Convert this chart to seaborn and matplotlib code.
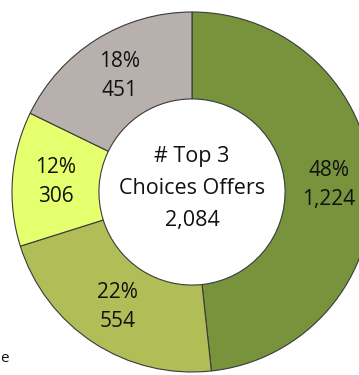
import matplotlib
matplotlib.use("Agg")
import matplotlib.pyplot as plt
import seaborn as sns

# Offer counts per top-3 choice segment (clockwise from 12 o'clock)
segments = ["Segment A", "Segment B", "Segment C", "Segment D"]
counts = [1224, 554, 306, 451]
colors = ["#77933C", "#B1BE58", "#E6FF6E", "#B8B0AD"]
center_title = ["# Top 3", "Choices Offers", "2,084"]

sns.set_theme(style="white")
plt.rcParams["font.family"] = ["Open Sans", "DejaVu Sans"]

W, H = 359, 375
fig = plt.figure(figsize=(W / 100, H / 100), dpi=100)
fig.patch.set_facecolor("white")

# Donut: centre at (192, 192) px from top-left, outer radius 180 px
R = 180
cx, cy = 192, 192
ax = fig.add_axes([(cx - R) / W, (H - cy - R) / H, 2 * R / W, 2 * R / H])

total = sum(counts)


def fmt(pct):
    n = round(pct * total / 100.0)
    return f"{pct:.0f}%\n{n:,}"


wedges, texts, autotexts = ax.pie(
    counts,
    colors=colors,
    startangle=90,
    counterclock=False,
    radius=1.0,
    autopct=fmt,
    pctdistance=0.76,
    wedgeprops=dict(width=0.483, edgecolor="#3a3a3a", linewidth=0.8),
    textprops=dict(fontsize=15, color="#111111", linespacing=1.5),
)
for t in autotexts:
    t.set_ha("center")
    t.set_va("center")

ax.text(0, 0.02, "\n".join(center_title), ha="center", va="center",
        fontsize=15.5, color="#111111", linespacing=1.7)

ax.set_xlim(-1, 1)
ax.set_ylim(-1, 1)
ax.set_aspect("equal")
ax.axis("off")

# Trailing letter of a footnote running off the left edge
fig.text(0.5 / W, 1 - 359 / H, "e", ha="left", va="center", fontsize=11, color="#111111")

fig.savefig("out.png", dpi=100)
